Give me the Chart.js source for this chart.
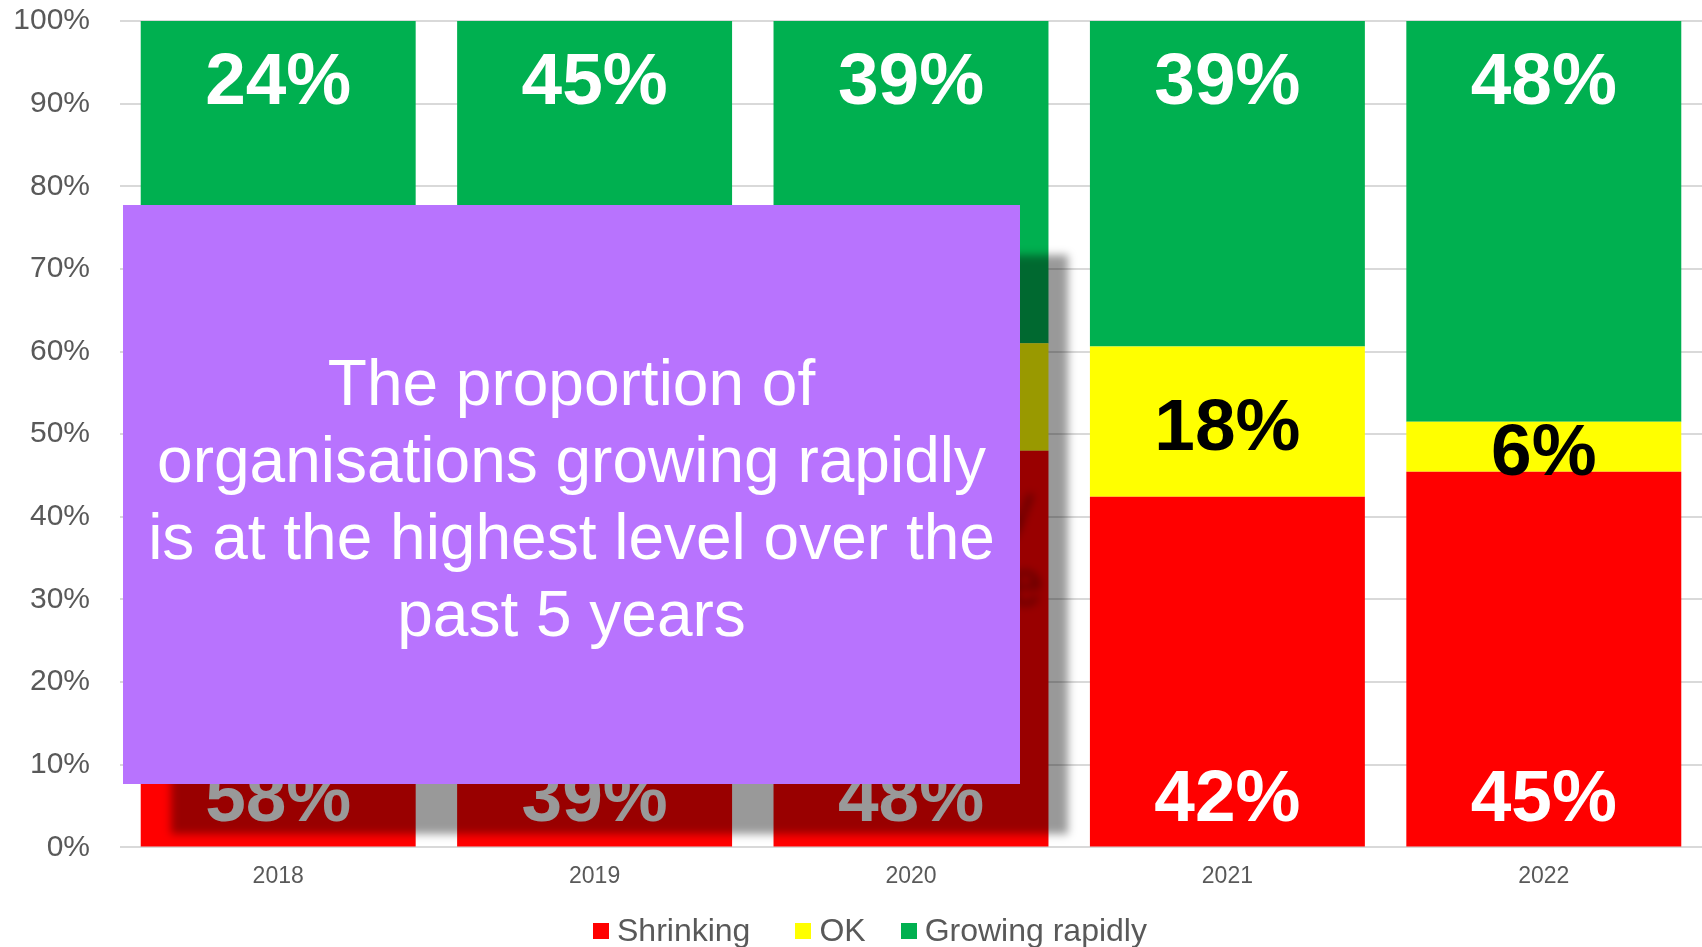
<!DOCTYPE html>
<html>
<head>
<meta charset="utf-8">
<script src="https://cdn.jsdelivr.net/npm/chart.js@4"></script>
<style>
  body { margin: 0; background: #fff; overflow: hidden; font-family: "Liberation Sans", Arial, sans-serif; }
  #wrap { position: relative; width: 1702px; height: 947px; }
  #note, #noteShadow {
    position: absolute; width: 897px; height: 579px;
    display: flex; align-items: center; justify-content: center; text-align: center;
    font-size: 64px; line-height: 77px;
  }
  #noteShadow { left: 171px; top: 255px; background: rgba(0,0,0,0.4); color: rgba(0,0,0,0.4); filter: blur(4px); }
  #note { left: 123px; top: 205px; background: #b873fe; color: #fff; padding-top: 8px; box-sizing: border-box; }
  #legend { position: absolute; left: 593px; top: 912px; display: flex; align-items: center; font-size: 32px; color: #595959; white-space: nowrap; }
  #legend span.item { display: flex; align-items: center; }
  #legend i { display: inline-block; width: 16px; height: 16px; margin-right: 8px; }
</style>
</head>
<body>
<div id="wrap">
  <canvas id="growthChart" width="1702" height="947"></canvas>
  <div id="noteShadow">The proportion of<br>organisations growing rapidly<br>is at the highest level over the<br>past 5 years</div>
  <div id="note">The proportion of<br>organisations growing rapidly<br>is at the highest level over the<br>past 5 years</div>
  <div id="legend"></div>
</div>
<script>
const years = ['2018', '2019', '2020', '2021', '2022'];
const shrinking = [58, 39, 48, 42, 45];
const ok = [18, 16, 13, 18, 6];
const growing = [24, 45, 39, 39, 48];
const seriesNames = ['Shrinking', 'OK', 'Growing rapidly'];
const seriesColors = ['#ff0000', '#ffff00', '#00b050'];
const yTicks = [0, 10, 20, 30, 40, 50, 60, 70, 80, 90, 100];

// 100% stacked: share of each year's total
const totals = years.map((y, i) => shrinking[i] + ok[i] + growing[i]);
const share = arr => arr.map((v, i) => v / totals[i] * 100);

const raw = [shrinking, ok, growing];

// draw the % labels inside the bars
const barLabels = {
  id: 'barLabels',
  afterDatasetsDraw(chart) {
    const ctx = chart.ctx;
    ctx.save();
    ctx.font = 'bold 73px "Liberation Sans", Arial, sans-serif';
    ctx.textAlign = 'center';
    ctx.textBaseline = 'alphabetic';
    chart.data.datasets.forEach((ds, i) => {
      chart.getDatasetMeta(i).data.forEach((bar, j) => {
        let y;
        if (i === 0) y = bar.base - 25;
        else if (i === 2) y = bar.y + 83;
        else y = (bar.y + bar.base) / 2 + 28;
        ctx.fillStyle = i === 1 ? '#000' : '#fff';
        ctx.fillText(raw[i][j] + '%', bar.x, y);
      });
    });
    ctx.restore();
  }
};

var ctx = document.getElementById('growthChart');
var growthChart = new Chart(ctx, {
  type: 'bar',
  data: {
    labels: years,
    datasets: [
      { label: seriesNames[0], data: share(shrinking), backgroundColor: seriesColors[0] },
      { label: seriesNames[1], data: share(ok), backgroundColor: seriesColors[1] },
      { label: seriesNames[2], data: share(growing), backgroundColor: seriesColors[2] }
    ]
  },
  options: {
    responsive: false,
    animation: false,
    categoryPercentage: 1,
    barPercentage: 0.869,
    layout: { padding: { top: 21, bottom: 50, left: 0, right: 0 } },
    plugins: {
      legend: { display: false },
      tooltip: { enabled: false }
    },
    scales: {
      x: {
        stacked: true,
        grid: { display: false },
        border: { display: false },
        ticks: { color: '#595959', font: { family: '"Liberation Sans", Arial', size: 23 }, padding: 7 }
      },
      y: {
        stacked: true,
        min: 0,
        max: 100,
        afterBuildTicks: s => { s.ticks = yTicks.map(v => ({ value: v })); },
        afterFit: s => { s.width = 120; s.paddingTop = 0; s.paddingBottom = 0; },
        grid: { color: '#d9d9d9', lineWidth: 2, drawTicks: false },
        border: { display: false },
        ticks: {
          color: '#595959',
          font: { family: '"Liberation Sans", Arial', size: 30 },
          padding: 30,
          callback: v => v + '%'
        }
      }
    }
  },
  plugins: [barLabels]
});

// legend below the chart
const legend = document.getElementById('legend');
const legendGaps = [45, 35, 0];
seriesNames.forEach((n, i) => {
  const it = document.createElement('span');
  it.className = 'item';
  it.style.marginRight = legendGaps[i] + 'px';
  it.innerHTML = '<i style="background:' + seriesColors[i] + '"></i>' + n;
  legend.appendChild(it);
});
</script>
</body>
</html>
